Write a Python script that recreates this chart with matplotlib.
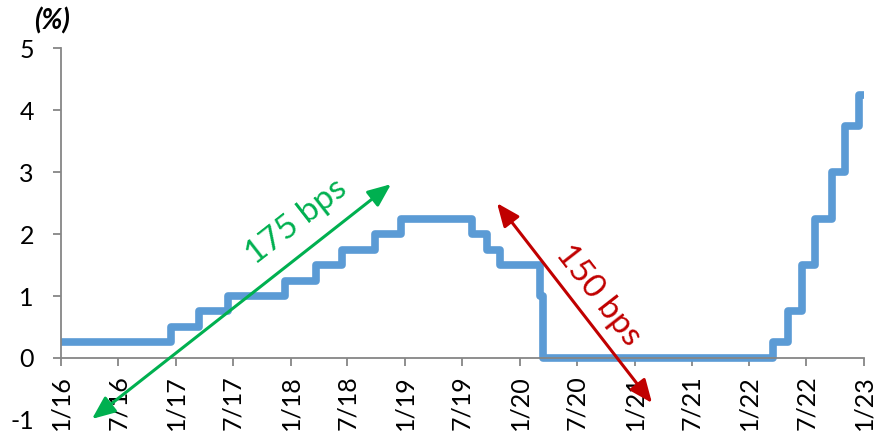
import matplotlib
matplotlib.use("Agg")
import matplotlib.pyplot as plt
from matplotlib.patches import FancyArrowPatch
import pandas as pd

plt.rcParams['font.family'] = ['Lato', 'DejaVu Sans']

# Fed funds target range, lower bound (%), by effective date of each change
change_dates = ["2016-01-01", "2016-12-15", "2017-03-16", "2017-06-15", "2017-12-14",
                "2018-03-22", "2018-06-14", "2018-09-27", "2018-12-20", "2019-08-01",
                "2019-09-19", "2019-10-31", "2020-03-04", "2020-03-16", "2022-03-17",
                "2022-05-05", "2022-06-16", "2022-07-28", "2022-09-22", "2022-11-03",
                "2022-12-15", "2023-01-01"]
rates = [0.25, 0.50, 0.75, 1.00, 1.25, 1.50, 1.75, 2.00, 2.25, 2.00, 1.75, 1.50,
         1.00, 0.00, 0.25, 0.75, 1.50, 2.25, 3.00, 3.75, 4.25, 4.25]

tick_dates = ["2016-01-01", "2016-07-01", "2017-01-01", "2017-07-01", "2018-01-01",
              "2018-07-01", "2019-01-01", "2019-07-01", "2020-01-01", "2020-07-01",
              "2021-01-01", "2021-07-01", "2022-01-01", "2022-07-01", "2023-01-01"]
tick_labels = ["1/16", "7/16", "1/17", "7/17", "1/18", "7/18", "1/19", "7/19",
               "1/20", "7/20", "1/21", "7/21", "1/22", "7/22", "1/23"]
y_ticks = [-1, 0, 1, 2, 3, 4, 5]

hike_label = "175 bps"
cut_label = "150 bps"

dates = pd.to_datetime(change_dates)
ticks = pd.to_datetime(tick_dates)

fig = plt.figure(figsize=(8.89, 4.34), dpi=100)
ax = fig.add_axes([0.0686, 0.0323, 0.9033, 0.857])

ax.plot(dates, rates, drawstyle='steps-post', color='#5B9BD5', lw=5.5,
        solid_joinstyle='round', solid_capstyle='butt', zorder=2, clip_on=False)

ax.set_xlim(ticks[0], ticks[-1])
ax.set_ylim(-1, 5)

axis_grey = '#868686'
for side in ['top', 'right']:
    ax.spines[side].set_visible(False)
ax.spines['bottom'].set_position(('data', 0))
ax.spines['left'].set_bounds(0, 5)
for side in ['bottom', 'left']:
    ax.spines[side].set_color(axis_grey)
    ax.spines[side].set_linewidth(1.3)

ax.set_xticks(ticks)
ax.set_xticklabels(tick_labels, rotation=90, va='top', ha='center')
ax.set_yticks(y_ticks)
ax.set_yticklabels([str(v) for v in y_ticks])
ax.tick_params(axis='x', direction='out', length=5.5, width=1.3, color=axis_grey,
               labelsize=18, pad=7)
ax.tick_params(axis='y', direction='out', length=5.5, width=1.3, color=axis_grey,
               labelsize=18, pad=14)
ax.yaxis.get_major_ticks()[0].tick1line.set_visible(False)

# Tightening and easing arrows
green = '#00B050'
red = '#C00000'
arrow_style = '<|-|>,head_length=1.0,head_width=0.42'
ax.add_patch(FancyArrowPatch((0.0386, 0.0027), (0.411, 0.634), transform=ax.transAxes,
                             arrowstyle=arrow_style, mutation_scale=14, color=green,
                             lw=2.2, shrinkA=0, shrinkB=0, clip_on=False, zorder=3))
ax.add_patch(FancyArrowPatch((0.543, 0.583), (0.736, 0.0457), transform=ax.transAxes,
                             arrowstyle=arrow_style, mutation_scale=14, color=red,
                             lw=2.2, shrinkA=0, shrinkB=0, clip_on=False, zorder=3))

ax.text(0.293, 0.532, hike_label, transform=ax.transAxes, color=green, fontsize=24,
        rotation=38, rotation_mode='anchor', ha='center', va='center')
ax.text(0.669, 0.336, cut_label, transform=ax.transAxes, color=red, fontsize=24,
        rotation=-52, rotation_mode='anchor', ha='center', va='center')

fig.text(0.0585, 0.952, "(%)", fontsize=20, fontweight='bold', fontstyle='italic',
         ha='center', va='center')

fig.savefig("out.png", dpi=100)
